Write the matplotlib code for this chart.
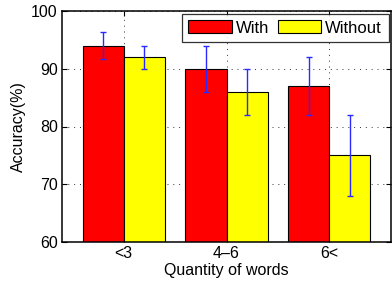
import numpy as np
import matplotlib
matplotlib.use('Agg')
import matplotlib.pyplot as plt

plt.rcParams['font.family'] = ['Liberation Sans', 'DejaVu Sans']

categories = ['<3', '4\u20136', '6<']
with_vals = [94, 90, 87]
without_vals = [92, 86, 75]
with_err = [2.3, 4, 5]
without_err = [2, 4, 7]

fig = plt.figure(figsize=(3.92, 2.89), dpi=100)
ax = fig.add_axes([62/392, 1-242/289, (391-62)/392, (242-11)/289])

x = np.arange(1, len(categories) + 1)
w = 0.4
ax.bar(x - w/2, with_vals, w, color='#ff0000', edgecolor='black', linewidth=0.8, label='With', zorder=2)
ax.bar(x + w/2, without_vals, w, color='#ffff00', edgecolor='black', linewidth=0.8, label='Without', zorder=2)
ax.errorbar(x - w/2, with_vals, yerr=with_err, fmt='none', ecolor='#2a2aff', elinewidth=1, capsize=2.5, zorder=3)
ax.errorbar(x + w/2, without_vals, yerr=without_err, fmt='none', ecolor='#2a2aff', elinewidth=1, capsize=2.5, zorder=3)

ax.set_xlim(0.4, 3.6)
ax.set_ylim(60, 100)
ax.set_xticks(x)
ax.set_xticklabels(categories)
ax.set_yticks([60, 70, 80, 90, 100])
ax.tick_params(axis='both', direction='in', labelsize=11.5, top=True, right=True, length=3.5, pad=3)
ax.grid(True, linestyle=(0, (1, 5)), color='#333333', linewidth=0.7, zorder=0)
ax.set_axisbelow(True)
for s in ax.spines.values():
    s.set_linewidth(1.1)

ax.set_xlabel('Quantity of words', fontsize=11.5, labelpad=1)
ax.set_ylabel('Accuracy(%)', fontsize=11.5, labelpad=4)

leg = ax.legend(loc='upper right', ncol=2, fontsize=12, frameon=True, fancybox=False,
                edgecolor='black', handlelength=2.6, handleheight=0.85, columnspacing=0.5,
                borderpad=0.4, handletextpad=0.25, borderaxespad=0.15)
leg.get_frame().set_linewidth(0.9)

fig.savefig('out.png', dpi=100)
